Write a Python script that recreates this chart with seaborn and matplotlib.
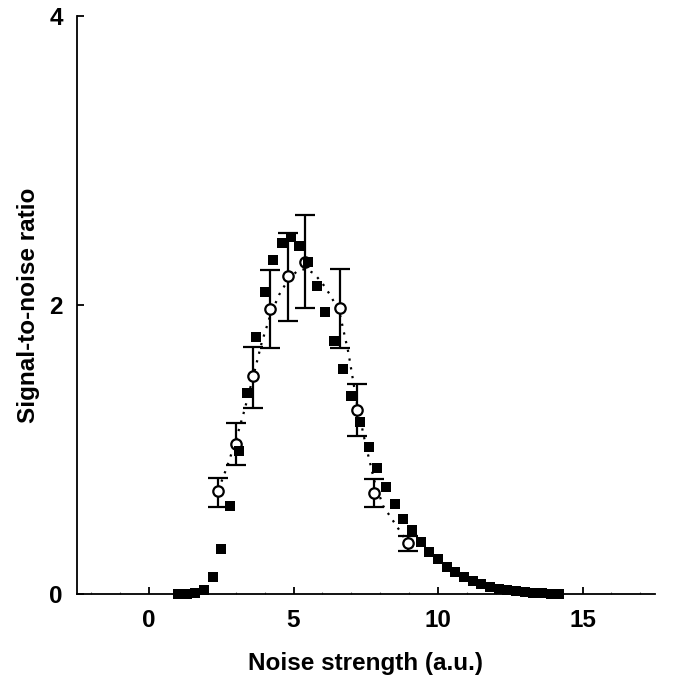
import matplotlib
matplotlib.use('Agg')
import matplotlib.pyplot as plt
import seaborn as sns
import pandas as pd

sns.set_style('ticks')
plt.rcParams['font.family'] = ['Liberation Sans', 'DejaVu Sans']
plt.rcParams['font.weight'] = 'bold'
plt.rcParams['text.color'] = 'black'
plt.rcParams['axes.labelcolor'] = 'black'
plt.rcParams['xtick.color'] = 'black'
plt.rcParams['ytick.color'] = 'black'

# Filled squares (model), step 0.3 from 1.0 to 14.2
sq_x = [1.0 + 0.3 * i for i in range(45)]
sq_y = [0.0, 0.0, 0.01, 0.03, 0.12, 0.31, 0.61, 0.99, 1.39, 1.78,
        2.09, 2.31, 2.43, 2.47, 2.41, 2.30, 2.13, 1.95, 1.75, 1.56,
        1.37, 1.19, 1.02, 0.87, 0.74, 0.62, 0.52, 0.44, 0.36, 0.29,
        0.24, 0.19, 0.155, 0.12, 0.092, 0.069, 0.051, 0.037, 0.026, 0.019,
        0.012, 0.008, 0.005, 0.003, 0.002]

# Open circles (measured) with error bars
circ_x = [2.4, 3.0, 3.6, 4.2, 4.8, 5.4, 6.6, 7.2, 7.8, 8.95]
circ_y = [0.71, 1.04, 1.51, 1.97, 2.20, 2.30, 1.98, 1.275, 0.70, 0.35]
circ_hi = [0.80, 1.18, 1.71, 2.245, 2.50, 2.62, 2.25, 1.45, 0.795, 0.40]
circ_lo = [0.605, 0.89, 1.29, 1.70, 1.89, 1.98, 1.70, 1.095, 0.60, 0.30]

# Dotted fit curve
fit_x = [2.4, 2.7, 3.0, 3.3, 3.6, 3.9, 4.2, 4.5, 4.8, 5.1, 5.4, 5.7,
         6.0, 6.3, 6.6, 6.9, 7.2, 7.5, 7.8, 8.1, 8.4, 8.7, 8.95]
fit_y = [0.72, 0.88, 1.06, 1.27, 1.50, 1.74, 1.93, 2.07, 2.17, 2.23, 2.25, 2.22,
         2.15, 2.06, 1.94, 1.67, 1.31, 1.03, 0.78, 0.61, 0.52, 0.43, 0.35]

fig = plt.figure(figsize=(6.73, 6.79), dpi=100)
ax = fig.add_axes([0.114, 0.1252, 0.859, 0.8512])

fit = pd.DataFrame({'x': fit_x, 'y': fit_y})
sns.lineplot(data=fit, x='x', y='y', ax=ax, color='black', lw=1.6,
             linestyle=(0, (1, 3)), zorder=2)

err_lo = [y - lo for y, lo in zip(circ_y, circ_lo)]
err_hi = [hi - y for y, hi in zip(circ_y, circ_hi)]
ax.errorbar(circ_x, circ_y, yerr=[err_lo, err_hi], fmt='o', color='black',
            mfc='white', mec='black', ms=7.5, mew=1.6, elinewidth=1.6,
            capsize=7.5, capthick=1.6, zorder=3)

sq = pd.DataFrame({'x': sq_x, 'y': sq_y})
sns.scatterplot(data=sq, x='x', y='y', ax=ax, marker='s', s=58, color='black',
                edgecolor='black', linewidth=0, zorder=4, clip_on=False)

ax.set_xlim(-2.5, 17.5)
ax.set_ylim(0, 4)
ax.set_xticks([0, 5, 10, 15])
ax.set_yticks([0, 2, 4])
ax.set_xticks(range(-2, 18), minor=True)
ax.tick_params(axis='both', which='major', direction='in', length=5,
               width=1.3, labelsize=17.5)
ax.tick_params(axis='x', which='major', pad=11)
ax.tick_params(axis='y', which='major', pad=10)
ax.tick_params(axis='x', which='minor', direction='in', length=1.5,
               width=0.8, color='#666666')
sns.despine(ax=ax)
ax.spines['left'].set_linewidth(1.3)
ax.spines['bottom'].set_linewidth(1.3)
ax.spines['left'].set_color('black')
ax.spines['bottom'].set_color('black')

ax.set_xlabel('Noise strength (a.u.)', fontsize=17.5, fontweight='bold', labelpad=14)
ax.set_ylabel('Signal-to-noise ratio', fontsize=17.5, fontweight='bold', labelpad=7)

fig.savefig('out.png', dpi=100)
